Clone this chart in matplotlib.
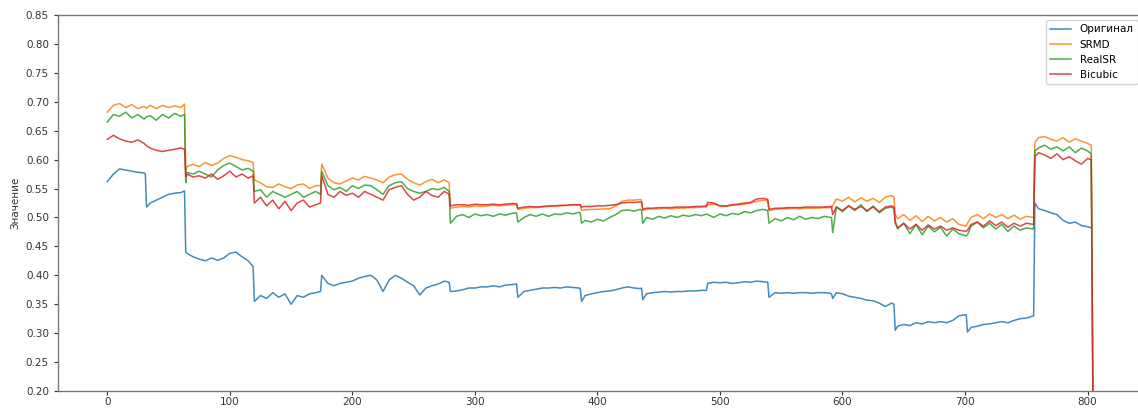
import numpy as np
import matplotlib
matplotlib.use("Agg")
import matplotlib.pyplot as plt

# sample positions (x index)
x = [0, 5, 10, 15, 20, 25, 30, 31, 32, 35, 40, 45, 50, 55, 60, 63,
     64, 65, 70, 75, 80, 85, 90, 95, 100, 105, 110, 115, 119,
     120, 125, 130, 135, 140, 145, 150, 155, 160, 165, 170, 174,
     175, 180, 185, 190, 195, 200, 205, 210, 215, 220, 225, 230, 235, 240, 245, 250, 255, 260, 265, 270, 275, 279,
     280, 285, 290, 295, 300, 305, 310, 315, 320, 325, 330, 334,
     335, 340, 345, 350, 355, 360, 365, 370, 375, 380, 385, 386,
     387, 390, 395, 400, 405, 410, 415, 420, 425, 430, 435, 436,
     437, 440, 445, 450, 455, 460, 465, 470, 475, 480, 485, 489,
     490, 495, 500, 505, 510, 515, 520, 525, 530, 535, 539,
     540, 545, 550, 555, 560, 565, 570, 575, 580, 585, 590, 591,
     592, 595, 600, 605, 610, 615, 620, 625, 630, 635, 640, 642,
     643, 645, 650, 655, 660, 665, 670, 675, 680, 685, 690, 695, 701,
     702, 705, 710, 715, 720, 725, 730, 735, 740, 745, 750, 756,
     757, 760, 765, 770, 775, 780, 785, 790, 795, 800, 803,
     805]

original = [0.562, 0.575, 0.584, 0.582, 0.580, 0.578, 0.577, 0.575, 0.518, 0.525, 0.530, 0.535, 0.540, 0.542, 0.543, 0.546,
            0.440, 0.438, 0.432, 0.428, 0.425, 0.430, 0.426, 0.430, 0.438, 0.440, 0.432, 0.425, 0.415,
            0.355, 0.365, 0.360, 0.370, 0.362, 0.368, 0.350, 0.365, 0.362, 0.368, 0.370, 0.372,
            0.400, 0.386, 0.382, 0.386, 0.388, 0.390, 0.395, 0.398, 0.400, 0.392, 0.372, 0.392, 0.400, 0.395, 0.388, 0.382, 0.366, 0.378, 0.382, 0.385, 0.390, 0.388,
            0.372, 0.373, 0.375, 0.378, 0.378, 0.380, 0.380, 0.382, 0.380, 0.383, 0.384, 0.385,
            0.362, 0.372, 0.374, 0.376, 0.378, 0.378, 0.379, 0.378, 0.380, 0.379, 0.378, 0.377,
            0.355, 0.365, 0.368, 0.370, 0.372, 0.373, 0.375, 0.378, 0.380, 0.378, 0.377, 0.378,
            0.358, 0.368, 0.370, 0.371, 0.372, 0.371, 0.372, 0.372, 0.373, 0.373, 0.374, 0.374,
            0.386, 0.388, 0.387, 0.388, 0.386, 0.387, 0.389, 0.388, 0.390, 0.389, 0.388,
            0.362, 0.370, 0.369, 0.370, 0.369, 0.370, 0.370, 0.369, 0.370, 0.370, 0.369, 0.368,
            0.360, 0.370, 0.368, 0.364, 0.362, 0.360, 0.357, 0.356, 0.352, 0.346, 0.352, 0.350,
            0.305, 0.312, 0.315, 0.313, 0.318, 0.316, 0.320, 0.318, 0.320, 0.318, 0.322, 0.330, 0.332,
            0.302, 0.310, 0.312, 0.315, 0.316, 0.318, 0.320, 0.318, 0.322, 0.325, 0.326, 0.330,
            0.525, 0.515, 0.512, 0.508, 0.505, 0.495, 0.490, 0.492, 0.486, 0.484, 0.482]

srmd = [0.682, 0.694, 0.697, 0.690, 0.695, 0.688, 0.692, 0.690, 0.689, 0.694, 0.688, 0.694, 0.690, 0.693, 0.690, 0.696,
        0.580, 0.588, 0.592, 0.588, 0.595, 0.590, 0.594, 0.602, 0.607, 0.604, 0.600, 0.598, 0.595,
        0.565, 0.560, 0.553, 0.552, 0.558, 0.553, 0.550, 0.556, 0.558, 0.550, 0.555, 0.555,
        0.592, 0.568, 0.560, 0.558, 0.563, 0.568, 0.565, 0.571, 0.568, 0.565, 0.560, 0.570, 0.574, 0.575, 0.566, 0.560, 0.556, 0.562, 0.566, 0.560, 0.565, 0.560,
        0.516, 0.518, 0.519, 0.518, 0.520, 0.519, 0.520, 0.521, 0.520, 0.521, 0.522, 0.522,
        0.514, 0.516, 0.517, 0.517, 0.518, 0.519, 0.520, 0.520, 0.521, 0.522, 0.522, 0.522,
        0.512, 0.513, 0.514, 0.514, 0.515, 0.515, 0.520, 0.528, 0.530, 0.530, 0.531, 0.530,
        0.512, 0.514, 0.515, 0.515, 0.516, 0.515, 0.516, 0.516, 0.517, 0.517, 0.518, 0.518,
        0.522, 0.523, 0.520, 0.519, 0.521, 0.522, 0.523, 0.525, 0.528, 0.530, 0.529,
        0.512, 0.514, 0.515, 0.515, 0.516, 0.515, 0.516, 0.516, 0.516, 0.517, 0.517, 0.517,
        0.520, 0.532, 0.528, 0.535, 0.527, 0.534, 0.528, 0.533, 0.526, 0.535, 0.538, 0.535,
        0.505, 0.498, 0.505, 0.495, 0.503, 0.493, 0.502, 0.494, 0.500, 0.492, 0.498, 0.488, 0.485,
        0.490, 0.500, 0.505, 0.498, 0.506, 0.500, 0.505, 0.498, 0.504, 0.497, 0.502, 0.500,
        0.630, 0.638, 0.640, 0.635, 0.632, 0.638, 0.630, 0.636, 0.632, 0.628, 0.625,
        0.0]

realsr = [0.665, 0.678, 0.675, 0.682, 0.672, 0.678, 0.670, 0.672, 0.674, 0.676, 0.668, 0.678, 0.672, 0.680, 0.675, 0.678,
          0.560, 0.578, 0.575, 0.580, 0.575, 0.570, 0.582, 0.590, 0.594, 0.588, 0.582, 0.585, 0.580,
          0.545, 0.548, 0.535, 0.545, 0.540, 0.535, 0.540, 0.545, 0.535, 0.540, 0.545, 0.540,
          0.580, 0.555, 0.548, 0.552, 0.545, 0.555, 0.550, 0.556, 0.555, 0.548, 0.540, 0.555, 0.560, 0.562, 0.550, 0.545, 0.542, 0.545, 0.550, 0.548, 0.552, 0.545,
          0.490, 0.502, 0.505, 0.500, 0.506, 0.503, 0.505, 0.502, 0.506, 0.504, 0.507, 0.508,
          0.492, 0.500, 0.505, 0.502, 0.506, 0.502, 0.506, 0.505, 0.508, 0.506, 0.509, 0.508,
          0.490, 0.495, 0.492, 0.497, 0.494, 0.500, 0.505, 0.512, 0.513, 0.511, 0.514, 0.512,
          0.490, 0.500, 0.497, 0.502, 0.499, 0.503, 0.500, 0.504, 0.502, 0.505, 0.503, 0.506,
          0.505, 0.500, 0.506, 0.503, 0.507, 0.505, 0.510, 0.508, 0.512, 0.514, 0.512,
          0.490, 0.498, 0.494, 0.500, 0.496, 0.502, 0.497, 0.500, 0.498, 0.502, 0.500, 0.500,
          0.474, 0.518, 0.510, 0.520, 0.512, 0.522, 0.510, 0.520, 0.508, 0.516, 0.518, 0.515,
          0.495, 0.480, 0.490, 0.472, 0.488, 0.470, 0.485, 0.475, 0.483, 0.468, 0.480, 0.472, 0.468,
          0.470, 0.485, 0.492, 0.482, 0.490, 0.480, 0.488, 0.476, 0.485, 0.478, 0.482, 0.480,
          0.615, 0.620, 0.625, 0.618, 0.622, 0.615, 0.622, 0.612, 0.620, 0.615, 0.610,
          0.0]

bicubic = [0.635, 0.642, 0.636, 0.632, 0.630, 0.634, 0.628, 0.626, 0.624, 0.620, 0.616, 0.614, 0.616, 0.618, 0.620, 0.618,
           0.570, 0.575, 0.570, 0.572, 0.568, 0.575, 0.566, 0.572, 0.580, 0.570, 0.575, 0.568, 0.572,
           0.525, 0.535, 0.520, 0.530, 0.515, 0.528, 0.512, 0.525, 0.530, 0.518, 0.522, 0.525,
           0.572, 0.540, 0.535, 0.545, 0.538, 0.542, 0.535, 0.545, 0.540, 0.535, 0.530, 0.548, 0.552, 0.555, 0.540, 0.530, 0.535, 0.545, 0.538, 0.535, 0.545, 0.540,
           0.520, 0.522, 0.522, 0.521, 0.523, 0.522, 0.522, 0.523, 0.522, 0.523, 0.524, 0.524,
           0.516, 0.518, 0.519, 0.518, 0.519, 0.520, 0.520, 0.521, 0.521, 0.522, 0.522, 0.522,
           0.518, 0.519, 0.519, 0.520, 0.520, 0.521, 0.522, 0.525, 0.526, 0.526, 0.527, 0.526,
           0.514, 0.516, 0.516, 0.517, 0.517, 0.517, 0.518, 0.518, 0.518, 0.519, 0.519, 0.520,
           0.526, 0.525, 0.520, 0.520, 0.522, 0.523, 0.525, 0.526, 0.532, 0.533, 0.531,
           0.514, 0.516, 0.516, 0.517, 0.517, 0.517, 0.518, 0.518, 0.518, 0.518, 0.519, 0.519,
           0.505, 0.518, 0.512, 0.520, 0.514, 0.519, 0.512, 0.518, 0.510, 0.518, 0.520, 0.518,
           0.490, 0.482, 0.490, 0.480, 0.488, 0.478, 0.487, 0.480, 0.485, 0.478, 0.482, 0.478, 0.476,
           0.478, 0.488, 0.492, 0.485, 0.494, 0.486, 0.492, 0.483, 0.490, 0.485, 0.490, 0.488,
           0.605, 0.612, 0.608, 0.602, 0.610, 0.600, 0.605, 0.598, 0.592, 0.602, 0.600,
           0.0]

series_names = ["Оригинал", "SRMD", "RealSR", "Bicubic"]
y_ticks = [0.20, 0.25, 0.30, 0.35, 0.40, 0.45, 0.50, 0.55, 0.60, 0.65, 0.70, 0.75, 0.80, 0.85]
x_ticks = [0, 100, 200, 300, 400, 500, 600, 700, 800]

plt.rcParams['font.family'] = ['DejaVu Sans']
fig = plt.figure(figsize=(11.38, 4.08), dpi=100)
W, H = 1138, 408
ax = fig.add_axes([58 / W, 17 / H, (1143 - 58) / W, (391 - 15) / H])

colors = ["#1f77b4", "#ff7f0e", "#2ca02c", "#d62728"]
for name, data, c in zip(series_names, [original, srmd, realsr, bicubic], colors):
    ax.plot(x[:len(data)], data, color=c, lw=1.1, label=name, alpha=0.85)

ax.set_ylim(0.20, 0.85)
ax.set_yticks(y_ticks)
ax.set_yticklabels([f"{v:.2f}" for v in y_ticks])
ax.set_xticks(x_ticks)
ax.tick_params(labelsize=7.5, colors="#333333", length=3)
ax.tick_params(axis="x", pad=1.5)
ax.set_ylabel("Значение", fontsize=7.5, color="#333333")
for s in ax.spines.values():
    s.set_color("#777777")
    s.set_linewidth(1.0)

ax.legend(loc="upper right", fontsize=7.5, frameon=True, handlelength=2.0)

fig.savefig("out.png", dpi=100)
